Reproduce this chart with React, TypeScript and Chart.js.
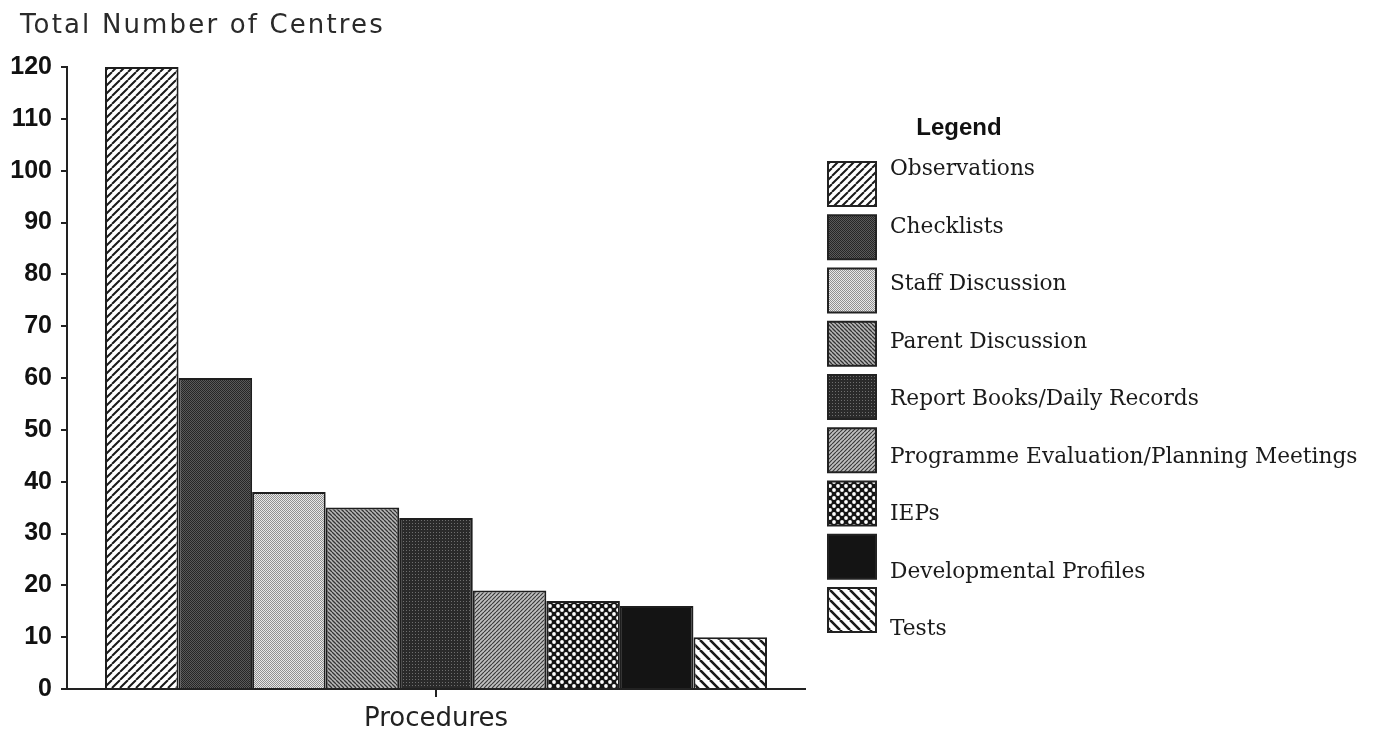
import React, { useEffect, useRef } from 'react';
import { Chart, registerables } from 'chart.js';

Chart.register(...registerables);

// ---- data ----
const categories = ['Procedures'];
const seriesNames = [
  'Observations',
  'Checklists',
  'Staff Discussion',
  'Parent Discussion',
  'Report Books/Daily Records',
  'Programme Evaluation/Planning Meetings',
  'IEPs',
  'Developmental Profiles',
  'Tests',
];
const seriesValues = [120, 60, 38, 35, 33, 19, 17, 16, 10];
const yMin = 0;
const yMax = 120;
const yStep = 10;
const yAxisTitle = 'Total Number of Centres';
const legendTitle = 'Legend';
const patternKinds = [
  'diagUpWide',
  'darkDots',
  'lightChecker',
  'diagDownDense',
  'darkDots2',
  'diagUpDense',
  'circles',
  'solid',
  'diagDownWide',
];

function tile(ctx: CanvasRenderingContext2D, size: number, draw: (c: CanvasRenderingContext2D, s: number) => void) {
  const c = document.createElement('canvas');
  c.width = size;
  c.height = size;
  const x = c.getContext('2d')!;
  draw(x, size);
  return ctx.createPattern(c, 'repeat');
}

function diag(up: boolean, bg: string, fg: string, lw: number) {
  return (c: CanvasRenderingContext2D, s: number) => {
    c.fillStyle = bg;
    c.fillRect(0, 0, s, s);
    c.strokeStyle = fg;
    c.lineWidth = lw;
    c.beginPath();
    for (let k = -1; k <= 1; k++) {
      if (up) {
        c.moveTo(k * s, s);
        c.lineTo(k * s + s, 0);
      } else {
        c.moveTo(k * s, 0);
        c.lineTo(k * s + s, s);
      }
    }
    c.stroke();
  };
}

function makePattern(ctx: CanvasRenderingContext2D, kind: string): any {
  switch (kind) {
    case 'diagUpWide':
      return tile(ctx, 8, diag(true, '#ffffff', '#1a1a1a', 2.0));
    case 'diagDownWide':
      return tile(ctx, 10, diag(false, '#ffffff', '#1a1a1a', 2.6));
    case 'diagDownDense':
      return tile(ctx, 4, diag(false, '#b8b8b8', '#333333', 1.3));
    case 'diagUpDense':
      return tile(ctx, 4, diag(true, '#c0c0c0', '#3a3a3a', 1.2));
    case 'darkDots':
      return tile(ctx, 2, (c) => {
        c.fillStyle = '#262626';
        c.fillRect(0, 0, 2, 2);
        c.fillStyle = '#5a5a5a';
        c.fillRect(1, 0, 1, 1);
        c.fillRect(0, 1, 1, 1);
      });
    case 'darkDots2':
      return tile(ctx, 3, (c) => {
        c.fillStyle = '#2a2a2a';
        c.fillRect(0, 0, 3, 3);
        c.fillStyle = '#6e6e6e';
        c.fillRect(1, 1, 1, 1);
      });
    case 'lightChecker':
      return tile(ctx, 2, (c) => {
        c.fillStyle = '#e8e8e8';
        c.fillRect(0, 0, 2, 2);
        c.fillStyle = '#909090';
        c.fillRect(0, 0, 1, 1);
        c.fillRect(1, 1, 1, 1);
      });
    case 'circles':
      return tile(ctx, 8, (c) => {
        c.fillStyle = '#141414';
        c.fillRect(0, 0, 8, 8);
        c.fillStyle = '#ffffff';
        for (const [cx, cy] of [[2, 2], [6, 6]]) {
          c.beginPath();
          c.arc(cx, cy, 1.9, 0, Math.PI * 2);
          c.fill();
        }
      });
    default:
      return '#141414';
  }
}

const decorPlugin = {
  id: 'decor',
  afterDraw(chart: any) {
    const ctx: CanvasRenderingContext2D = chart.ctx;
    const area = chart.chartArea;
    ctx.save();
    // axis title (top-left, horizontal)
    ctx.fillStyle = '#2a2a2a';
    ctx.font = '26px "DejaVu Sans"';
    (ctx as any).letterSpacing = '2.15px';
    ctx.textAlign = 'left';
    ctx.textBaseline = 'alphabetic';
    ctx.fillText(yAxisTitle, 20, 33);
    (ctx as any).letterSpacing = '0px';

    // legend
    const boxX = area.right + 23;
    const textX = boxX + 62;
    ctx.fillStyle = '#111';
    ctx.font = 'bold 24px "Liberation Sans"';
    ctx.textAlign = 'center';
    ctx.fillText(legendTitle, boxX + 131, 135);
    ctx.textAlign = 'left';
    ctx.font = '21.7px "DejaVu Serif"';
    chart.data.datasets.forEach((ds: any, i: number) => {
      const by = 162 + i * 53.25;
      ctx.fillStyle = ds.backgroundColor;
      ctx.fillRect(boxX, by, 48, 44);
      ctx.strokeStyle = '#222';
      ctx.lineWidth = 2;
      ctx.strokeRect(boxX, by, 48, 44);
      ctx.fillStyle = '#1a1a1a';
      ctx.fillText(ds.label, textX, 175 + i * 57.5);
    });
    ctx.restore();
  },
};

export default function App() {
  const ref = useRef<HTMLCanvasElement | null>(null);
  useEffect(() => {
    const canvas = ref.current!;
    const ctx = canvas.getContext('2d')!;
    const datasets = seriesNames.map((name, i) => ({
      label: name,
      data: [seriesValues[i]],
      backgroundColor: makePattern(ctx, patternKinds[i]),
      borderColor: '#1e1e1e',
      borderWidth: 2,
      categoryPercentage: 0.897,
      barPercentage: 1,
    }));
    const chart = new Chart(canvas, {
      type: 'bar',
      data: { labels: categories, datasets },
      options: {
        responsive: false,
        animation: false,
        devicePixelRatio: 1,
        layout: { padding: { top: 67, left: 0, right: 569, bottom: 0 } },
        plugins: {
          legend: { display: false },
          title: { display: false },
          tooltip: { enabled: false },
        },
        scales: {
          x: {
            type: 'category',
            offset: true,
            grid: {
              display: true,
              drawOnChartArea: false,
              drawTicks: true,
              tickLength: 8,
              offset: false,
              color: '#222',
              lineWidth: 2,
            },
            border: { display: true, color: '#222', width: 2 },
            ticks: {
              padding: 7,
              color: '#222',
              font: { family: '"DejaVu Sans"', size: 26 },
            },
            afterFit: (s: any) => {
              s.height = 50;
            },
          },
          y: {
            min: yMin,
            max: yMax,
            grid: {
              display: true,
              drawOnChartArea: false,
              drawTicks: true,
              tickLength: 6,
              color: '#222',
              lineWidth: 2,
            },
            border: { display: true, color: '#222', width: 2 },
            ticks: {
              stepSize: yStep,
              padding: 9,
              color: '#111',
              font: { family: '"Liberation Sans"', size: 25, weight: 'bold' },
            },
            afterFit: (s: any) => {
              s.width = 67;
            },
          },
        },
      },
      plugins: [decorPlugin],
    });
    return () => chart.destroy();
  }, []);
  return (
    <canvas
      ref={ref}
      width={1374}
      height={739}
      style={{ position: 'absolute', left: 0, top: 0, width: 1374, height: 739, background: '#fff' }}
    />
  );
}
